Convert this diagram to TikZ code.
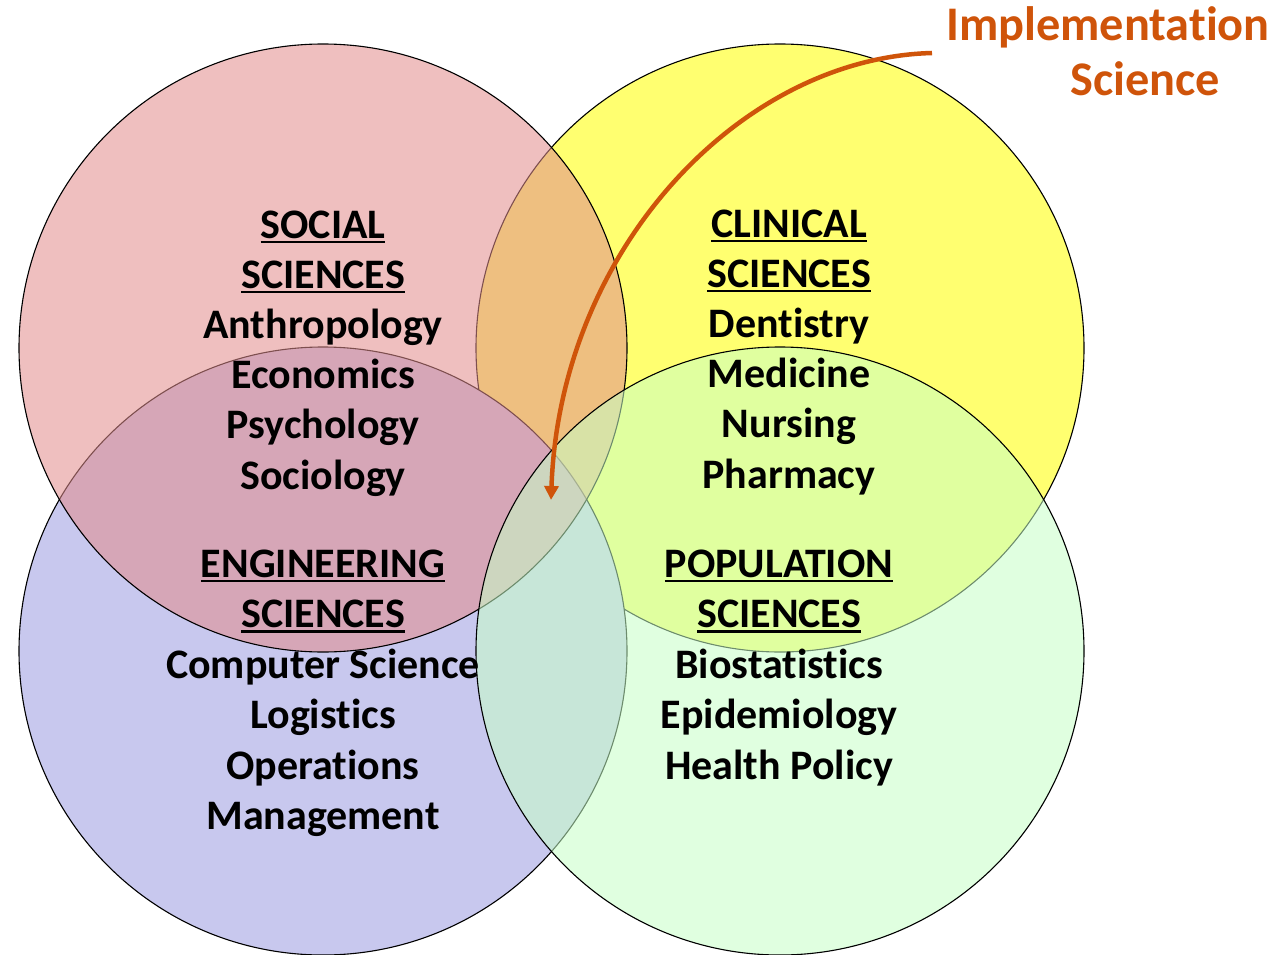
\documentclass[tikz,border=0pt]{standalone}
\usepackage{fontspec}
\setmainfont{Carlito}[Ligatures={NoCommon,NoContextual}]
\usetikzlibrary{arrows.meta}
\definecolor{pinkc}{RGB}{226,141,141}
\definecolor{yellowc}{RGB}{255,255,112}
\definecolor{bluec}{RGB}{200,200,238}
\definecolor{greenc}{RGB}{199,255,199}
\definecolor{implc}{RGB}{207,84,10}
\newcommand{\ulx}[1]{\setbox0\hbox{#1}\rlap{\rule[-5pt]{\wd0}{2.4pt}}\box0}
\begin{document}
\begin{tikzpicture}[x=1pt,y=-1pt,
  circ/.style={circle, draw=black, line width=1.1pt, minimum size=608pt, inner sep=0pt},
  lbl/.style={anchor=base, inner sep=0pt, font=\fontsize{42}{50}\selectfont\bfseries},
  impl/.style={anchor=base, inner sep=0pt, text=implc, font=\fontsize{48.3}{56}\selectfont\bfseries},
  implarrow/.style={draw=implc, line width=4.5pt, -{Triangle[width=14pt,length=14pt]}}]
\useasboundingbox (0,0) rectangle (1279,955);
\node[circ, fill=yellowc] (clin) at (780,348) {};
\node[circ, fill=bluec] (eng) at (323,651) {};
\node[circ, fill=pinkc, fill opacity=0.56] (soc) at (323,348) {};
\node[circ, fill=greenc, fill opacity=0.55] (pop) at (780,651) {};
\foreach \t [count=\i] in {{\ulx{SOCIAL}}, {\ulx{SCIENCES}}, Anthropology, Economics, Psychology, Sociology}
  \node[lbl] (soc\i) at (323, 238+50.2*\i-50.2) {\t};
\foreach \t [count=\i] in {{\ulx{CLINICAL}}, {\ulx{SCIENCES}}, Dentistry, Medicine, Nursing, Pharmacy}
  \node[lbl] (clin\i) at (789, 237+50.2*\i-50.2) {\t};
\foreach \t [count=\i] in {{\ulx{ENGINEERING}}, {\ulx{SCIENCES}}, Computer Science, Logistics, Operations, Management}
  \node[lbl] (eng\i) at (323, 577+50.5*\i-50.5) {\t};
\foreach \t [count=\i] in {{\ulx{POPULATION}}, {\ulx{SCIENCES}}, Biostatistics, Epidemiology, Health Policy}
  \node[lbl] (pop\i) at (779, 577+50.5*\i-50.5) {\t};
\node[impl] (impl1) at (1108,41) {Implementation};
\node[impl] (impl2) at (1145,96) {Science};
\coordinate (astart) at (932,53);
\coordinate (aend) at (551,500);
\draw[implarrow] (astart) .. controls (740,58) and (560,250) .. (aend);
\end{tikzpicture}
\end{document}
